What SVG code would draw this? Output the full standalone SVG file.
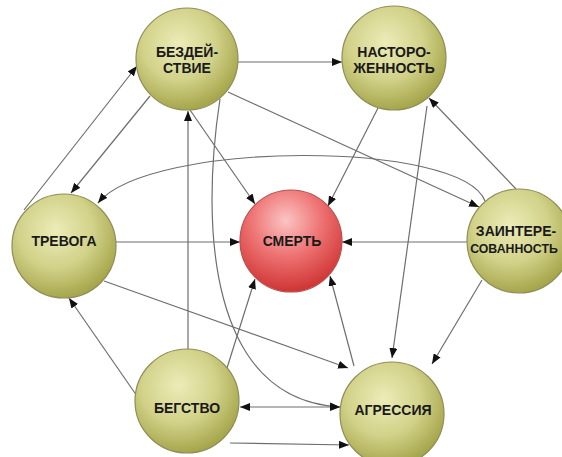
<svg xmlns="http://www.w3.org/2000/svg" width="562" height="457" viewBox="0 0 562 457">
<defs>
<radialGradient id="olive" cx="0.42" cy="0.35" r="0.65">
<stop offset="0" stop-color="#ececb8"/>
<stop offset="0.55" stop-color="#d2d28a"/>
<stop offset="1" stop-color="#a6a64c"/>
</radialGradient>
<radialGradient id="red" cx="0.45" cy="0.3" r="0.7">
<stop offset="0" stop-color="#fbc4c4"/>
<stop offset="0.5" stop-color="#ee7272"/>
<stop offset="1" stop-color="#cf3434"/>
</radialGradient>
<marker id="ah" markerUnits="userSpaceOnUse" markerWidth="10" markerHeight="8" refX="10" refY="4" orient="auto-start-reverse">
<path d="M0,0 L10,4 L0,8 z" fill="#111"/>
</marker>
<style>
.n circle{fill:url(#olive);stroke:#8e8e58;stroke-width:1.2}
.n.r circle{fill:url(#red);stroke:#b85050}
.n text{font-family:"Liberation Sans",Arial,sans-serif;font-weight:bold;font-size:14px;fill:#1a1a1a;text-anchor:middle}
#edges path{fill:none;stroke:#6e6e6e;stroke-width:1.2;marker-end:url(#ah)}
</style>
</defs>
<rect width="562" height="457" fill="#fff"/>
<g id="edges">
<path d="M238 62 L342 62"/>
<path d="M24 210 L137 66"/>
<path d="M150 96 L71 193"/>
<path d="M190 110 L255 204"/>
<path d="M378 108 L328 206"/>
<path d="M228 92 L479 207"/>
<path d="M485 201 C462 140 150 140 98 203"/>
<path d="M220 99 C200 230 210 400 340 407"/>
<path d="M116 242 L240 242"/>
<path d="M467 242 L342 242"/>
<path d="M104 281 L348 368"/>
<path d="M137 396 L69 298"/>
<path d="M188 349 L188 111"/>
<path d="M227 368 L255 279"/>
<path d="M354 366 L330 276"/>
<path d="M240 407 L340 407" style="marker-start:url(#ah)"/>
<path d="M230 443 L349 445"/>
<path d="M427 106 L392 358"/>
<path d="M516 189 L429 98"/>
<path d="M482 280 L432 364"/>
</g>
<g id="bezdeystvie" class="n"><circle cx="187" cy="59" r="51"/><text x="187" y="57">БЕЗДЕЙ-</text><text x="187" y="73">СТВИЕ</text></g>
<g id="nastorozhennost" class="n"><circle cx="394" cy="58" r="52"/><text x="394" y="57">НАСТОРО-</text><text x="394" y="73">ЖЕННОСТЬ</text></g>
<g id="trevoga" class="n"><circle cx="64" cy="246" r="52"/><text x="64" y="246">ТРЕВОГА</text></g>
<g id="smert" class="n r"><circle cx="291" cy="241" r="51"/><text x="292" y="246">СМЕРТЬ</text></g>
<g id="zainteresovannost" class="n"><circle cx="519" cy="241" r="52"/><text x="516" y="236">ЗАИНТЕРЕ-</text><text x="514" y="253" style="font-size:12.3px">СОВАННОСТЬ</text></g>
<g id="begstvo" class="n"><circle cx="187" cy="401" r="52"/><text x="187" y="413">БЕГСТВО</text></g>
<g id="agressiya" class="n"><circle cx="392" cy="414" r="52"/><text x="393" y="415">АГРЕССИЯ</text></g>
</svg>
